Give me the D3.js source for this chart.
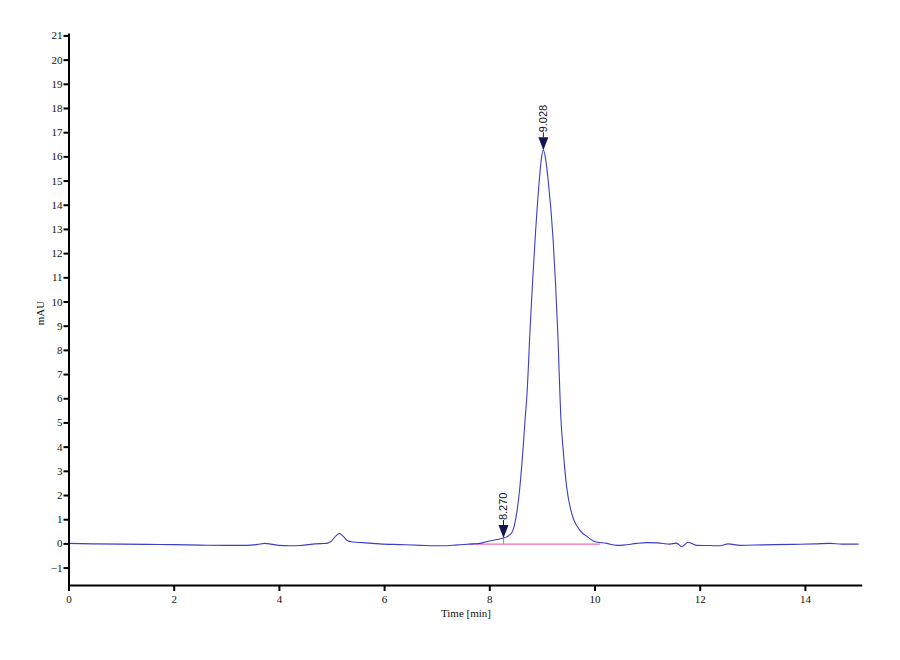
<!DOCTYPE html>
<html>
<head>
<meta charset="utf-8">
<script src="https://cdn.jsdelivr.net/npm/d3@7"></script>
<style>
  body { margin: 0; background: #fff; }
</style>
</head>
<body>
<div class="chartHolder"></div>
<script>
// time [min] and signal [mAU]
var timeVals = [0, 0.5, 1.0, 1.5, 2.0, 2.5, 3.0, 3.4, 3.6, 3.73, 3.85, 4.0, 4.21, 4.4, 4.6, 4.8, 4.91, 5.0, 5.08, 5.15, 5.22, 5.3, 5.4, 5.6, 5.92, 6.3, 6.7, 7.12, 7.4, 7.7, 7.82, 8.0, 8.15, 8.27, 8.33, 8.43, 8.52, 8.58, 8.635, 8.68, 8.72, 8.774, 8.82, 8.869, 8.95, 8.99, 9.028, 9.07, 9.12, 9.215, 9.26, 9.30, 9.363, 9.41, 9.47, 9.567, 9.72, 9.88, 10.0, 10.23, 10.42, 10.55, 10.8, 10.99, 11.2, 11.43, 11.56, 11.66, 11.78, 11.94, 12.2, 12.39, 12.54, 12.77, 13.2, 13.78, 14.2, 14.48, 14.7, 15.02];
var signalVals = [0.0, -0.02, -0.03, -0.04, -0.05, -0.07, -0.08, -0.08, -0.04, 0.0, -0.03, -0.08, -0.1, -0.09, -0.04, -0.01, 0.0, 0.1, 0.3, 0.41, 0.3, 0.12, 0.06, 0.03, -0.02, -0.05, -0.08, -0.1, -0.06, -0.02, 0.0, 0.1, 0.16, 0.22, 0.27, 0.45, 1.24, 2.3, 3.72, 5.1, 6.3, 8.8, 10.7, 12.5, 15.0, 15.9, 16.25, 15.9, 15.0, 12.5, 10.7, 8.8, 5.1, 3.72, 2.34, 1.24, 0.55, 0.25, 0.08, 0.0, -0.08, -0.07, 0.0, 0.03, 0.02, -0.03, 0.01, -0.14, 0.05, -0.08, -0.09, -0.1, -0.02, -0.08, -0.06, -0.04, -0.02, 0.0, -0.03, -0.03];

var peakTimes = [8.270, 9.028];
var peakHeights = [0.22, 16.25];
var peakLabels = ["8.270", "9.028"];

var baseTimes = [7.63, 10.1];
var baseVals = [-0.03, -0.03];

var xTicks = [0, 2, 4, 6, 8, 10, 12, 14];
var yTicks = d3.range(-1, 22);

var serif = "'Liberation Serif', 'DejaVu Serif', serif";
var svgW = 900, svgH = 660;
var svg = d3.select(".chartHolder").append("svg").attr("width", svgW).attr("height", svgH);

var xScale = d3.scaleLinear().domain([0, 15.08]).range([68.5, 861.7]);
var yScale = d3.scaleLinear().domain([-1.72, 21.1]).range([585, 33]);

var trace = timeVals.map(function (t, i) { return [t, signalVals[i]]; });

// integration baseline and drop line
svg.append("line")
  .attr("x1", xScale(baseTimes[0])).attr("y1", yScale(baseVals[0]))
  .attr("x2", xScale(baseTimes[1])).attr("y2", yScale(baseVals[1]))
  .style("stroke", "#f06cb4").style("stroke-width", 1.2);

svg.append("line")
  .attr("x1", xScale(peakTimes[0])).attr("y1", yScale(baseVals[0]))
  .attr("x2", xScale(peakTimes[0])).attr("y2", yScale(peakHeights[0]))
  .style("stroke", "#f06cb4").style("stroke-width", 1);

var line = d3.line()
  .x(function (d) { return xScale(d[0]); })
  .y(function (d) { return yScale(d[1]); })
  .curve(d3.curveMonotoneX);

svg.append("path").datum(trace).attr("d", line)
  .style("fill", "none").style("stroke", "#3d3dc6").style("stroke-width", 1.1);

var xAxis = d3.axisBottom(xScale).tickValues(xTicks).tickFormat(d3.format("d")).tickSize(6).tickSizeOuter(0).tickPadding(4);
var gx = svg.append("g").attr("transform", "translate(0," + 585 + ")").call(xAxis);

var yAxis = d3.axisLeft(yScale).tickValues(yTicks).tickFormat(d3.format("d")).tickSize(5).tickSizeOuter(0).tickPadding(1);
var gy = svg.append("g").attr("transform", "translate(" + 68.5 + ",0)").call(yAxis);

[gx, gy].forEach(function (g) {
  g.attr("font-family", serif).attr("font-size", 11);
  g.selectAll("path, line").style("stroke", "#000").style("stroke-width", 2);
  g.selectAll("text").style("font-family", serif).style("fill", "#111");
});

// peak markers
var marks = svg.selectAll(".peak").data(peakTimes).enter().append("g").attr("class", "peak")
  .attr("transform", function (d, i) {
    return "translate(" + xScale(d) + "," + yScale(peakHeights[i]) + ")";
  });

marks.append("path").attr("d", "M0,0 L-5,-13 L5,-13 Z").style("fill", "#141450");
marks.append("line").attr("x1", 0).attr("x2", 0).attr("y1", -13).attr("y2", -18)
  .style("stroke", "#141450").style("stroke-width", 1);
marks.append("text")
  .attr("transform", "translate(0,-18) rotate(-90)")
  .attr("dy", "0.35em")
  .style("font-family", "'Liberation Sans', sans-serif").style("font-size", "11px").style("fill", "#111")
  .text(function (d, i) { return peakLabels[i]; });

svg.append("text").attr("x", 466).attr("y", 617).attr("text-anchor", "middle")
  .style("font-family", serif).style("font-size", "11px").style("fill", "#111")
  .text("Time [min]");

svg.append("text").attr("transform", "translate(44,313) rotate(-90)").attr("text-anchor", "middle")
  .style("font-family", serif).style("font-size", "11px").style("fill", "#111")
  .text("mAU");
</script>
</body>
</html>
